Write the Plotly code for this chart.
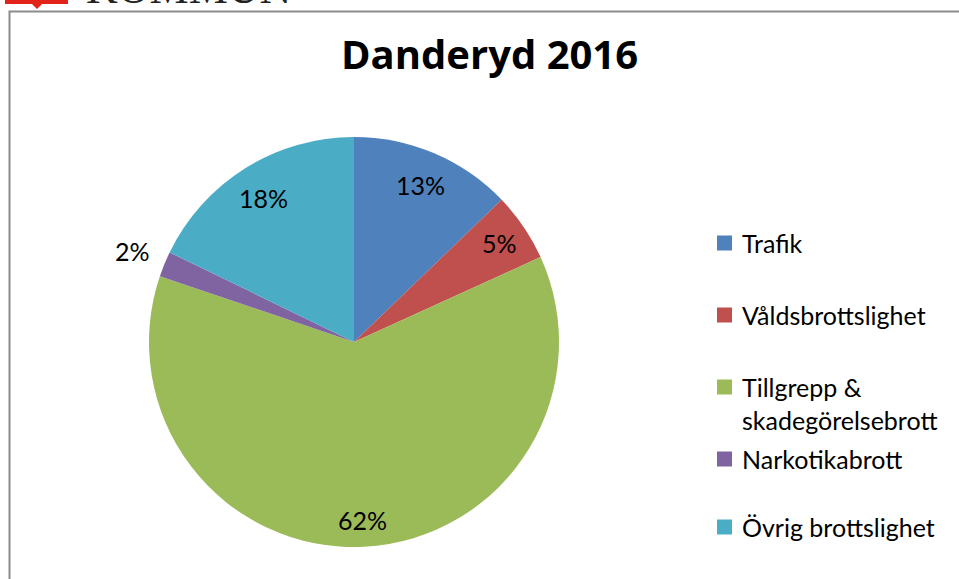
import math
import plotly.graph_objects as go

categories = ["Trafik", "Våldsbrottslighet", "Tillgrepp &<br>skadegörelsebrott", "Narkotikabrott", "Övrig brottslighet"]
values = [12.8, 5.4, 62.0, 2.0, 17.8]
colors = ["#4F81BD", "#C0504D", "#9BBB59", "#8064A2", "#4BACC6"]
label_radius = [0.83, 0.86, 0.87, 1.17, 0.83]
title_text = "Danderyd 2016"

W, H = 959, 579
CX, CY, R = 354, 342, 205
FONT = "Lato, 'Open Sans', sans-serif"
TFONT = "'Open Sans', Lato, sans-serif"

fig = go.Figure()
fig.add_trace(go.Pie(
    labels=categories,
    values=values,
    sort=False,
    direction="clockwise",
    rotation=0,
    marker=dict(colors=colors, line=dict(width=0)),
    textinfo="none",
    hoverinfo="label+percent",
    showlegend=False,
    domain=dict(x=[(CX - R) / W, (CX + R) / W], y=[1 - (CY + R) / H, 1 - (CY - R) / H]),
))

annotations = []
total = sum(values)
cum = 0.0
for v, rf in zip(values, label_radius):
    mid = (cum + v / 2) / total * 2 * math.pi
    cum += v
    px = CX + R * rf * math.sin(mid)
    py = CY - R * rf * math.cos(mid)
    annotations.append(dict(
        x=px / W, y=1 - py / H, xref="paper", yref="paper",
        text=f"{round(v / total * 100)}%", showarrow=False,
        font=dict(family=FONT, size=25, color="#000000"),
        xanchor="center", yanchor="middle",
    ))

# legend (custom)
legend_y = [243, 315, 387, 459, 527]
shapes = []
for cat, col, ly in zip(categories, colors, legend_y):
    shapes.append(dict(type="rect", xref="paper", yref="paper",
                       x0=717 / W, x1=732 / W, y0=1 - (ly + 7.5) / H, y1=1 - (ly - 7.5) / H,
                       fillcolor=col, line=dict(width=0)))
    annotations.append(dict(
        x=740 / W, y=1 - (ly - 17) / H, xref="paper", yref="paper",
        text=cat, showarrow=False, align="left",
        font=dict(family=FONT, size=25, color="#000000"),
        xanchor="left", yanchor="top",
    ))

# title
annotations.append(dict(
    x=489 / W, y=1 - 53 / H, xref="paper", yref="paper",
    text=f"<b>{title_text}</b>", showarrow=False,
    font=dict(family=TFONT, size=40, color="#000000"),
    xanchor="center", yanchor="middle",
))

# frame
shapes.append(dict(type="rect", xref="paper", yref="paper",
                   x0=9.5 / W, x1=1.05, y0=-0.05, y1=1 - 11.5 / H,
                   line=dict(color="#8C8C8C", width=2), fillcolor="rgba(0,0,0,0)"))
# logo fragment
shapes.append(dict(type="path", xref="paper", yref="paper",
                   path=f"M {5/W} 1.02 L {68/W} 1.02 L {68/W} {1-4/H} L {42/W} {1-4/H} L {37/W} {1-9/H} L {32/W} {1-4/H} L {5/W} {1-4/H} Z",
                   fillcolor="#E2231A", line=dict(width=0)))
annotations.append(dict(
    x=84 / W, y=1 - 15 / H, xref="paper", yref="paper",
    text="KOMMUN", showarrow=False,
    font=dict(family="Liberation Serif, serif", size=44, color="#222222"),
    xanchor="left", yanchor="bottom",
))

fig.update_layout(
    width=W, height=H,
    margin=dict(l=0, r=0, t=0, b=0),
    paper_bgcolor="#FFFFFF", plot_bgcolor="#FFFFFF",
    annotations=annotations, shapes=shapes,
)

fig.write_html("out.html", config={"displayModeBar": False},
               post_script="document.body.style.margin='0';")
